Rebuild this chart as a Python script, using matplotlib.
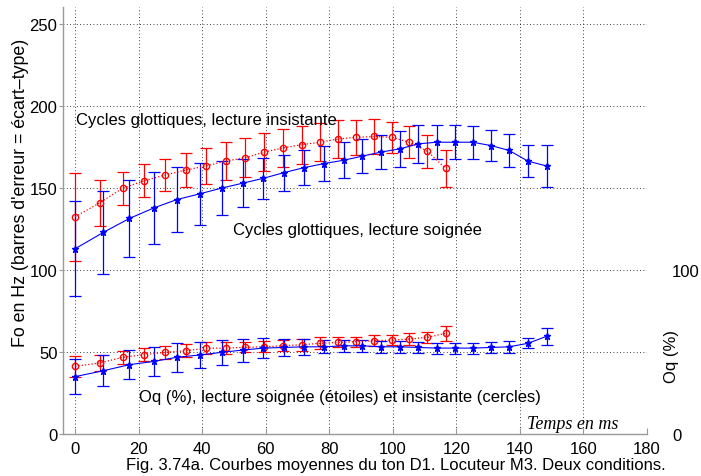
import matplotlib
matplotlib.use("Agg")
import matplotlib.pyplot as plt

plt.rcParams['font.family'] = ['Liberation Sans', 'DejaVu Sans']

# --- data ---
# lecture soignee (stars, blue)
t_soig = [0, 8.9, 17.1, 24.9, 32, 39.2, 46.1, 52.7, 59.3, 65.8, 72.1, 78.4,
          84.5, 90.4, 96.3, 102.3, 108.0, 113.8, 119.6, 125.1, 130.8, 136.6, 142.5, 148.4]
f0_soig = [113, 123, 131.5, 138, 143, 146.5, 150, 153, 156, 159.5, 162.5, 165,
           167, 169.5, 172, 174, 177, 178, 178, 178, 176, 173, 166.5, 163.5]
f0_soig_err = [29, 25.5, 23.5, 22, 20, 19, 16.5, 14.5, 12.5, 11, 10.5, 10.5,
               11, 10.5, 10.5, 11, 11.5, 10.5, 10.5, 10, 9.5, 10, 10, 13]
oq_soig = [35, 38.6, 42.3, 44.3, 46.8, 48.2, 49.8, 51.2, 52.4, 52.8, 53.2, 53.2,
           53.8, 53.8, 53.2, 53.2, 52.8, 52.4, 52.4, 52.4, 52.8, 53.2, 55.3, 59.6]
oq_soig_err = [10.8, 9.5, 9, 9, 8.7, 8.2, 7.5, 7, 6, 5, 5, 4,
               3.5, 3.5, 3.5, 3.5, 3.3, 3.3, 3.3, 3.3, 3.3, 3.5, 3, 5.3]

# lecture insistante (circles, red)
t_ins = [0, 7.7, 15, 21.8, 28.3, 34.8, 41.1, 47.4, 53.5, 59.5, 65.4, 71.3,
         77.1, 82.9, 88.4, 94.1, 99.7, 105.2, 110.9, 116.6]
f0_ins = [132.5, 141, 150, 154.5, 158, 161, 163.5, 166.5, 168.5, 172, 174.5, 176.5,
          178, 180, 181, 181.5, 181, 178, 172.5, 162]
f0_ins_err = [27, 14, 10, 10, 10, 10.5, 11, 11.5, 12, 11.7, 11.7, 11.5,
              11.5, 11.5, 10.5, 10.5, 9.5, 9.7, 10, 11.5]
oq_ins = [41.3, 43.3, 46.8, 48.4, 49.8, 50.8, 52.3, 52.4, 52.9, 53.2, 53.8, 54.5,
          55.3, 55.9, 56.3, 56.9, 57.3, 57.9, 59, 61.4]
oq_ins_err = [6.5, 4.6, 4.1, 3.8, 3.9, 3.9, 3.6, 3.5, 3, 3.3, 3.3, 3.6,
              3.6, 3, 3, 3.3, 3.3, 3.6, 3.3, 4.7]

xticks = [0, 20, 40, 60, 80, 100, 120, 140, 160, 180]
yticks = [0, 50, 100, 150, 200, 250]

blue = '#0000ff'
red = '#ff0000'

fig = plt.figure(figsize=(7.01, 4.77), dpi=100)
ax = fig.add_axes([63 / 701, 1 - 435 / 477, 584 / 701, 427 / 477])

eb = dict(capsize=4.5, elinewidth=0.9, capthick=0.9, markersize=4.5)
ax.errorbar(t_ins, f0_ins, yerr=f0_ins_err, color=red, ls=':', lw=0.9,
            marker='o', mfc='none', mec=red, **eb)
ax.errorbar(t_soig, f0_soig, yerr=f0_soig_err, color=blue, ls='-', lw=0.8,
            marker='*', **eb)
ax.errorbar(t_ins, oq_ins, yerr=oq_ins_err, color=red, ls=':', lw=0.9,
            marker='o', mfc='none', mec=red, **eb)
ax.errorbar(t_soig, oq_soig, yerr=oq_soig_err, color=blue, ls='-', lw=0.8,
            marker='*', **eb)

ax.set_xlim(-3.8, 180)
ax.set_ylim(0, 260.5)
ax.set_xticks(xticks)
ax.set_yticks(yticks)
ax.grid(True, color='black', ls=(0, (1, 3)), lw=0.6)
for s in ['top', 'right']:
    ax.spines[s].set_visible(False)
for s in ['left', 'bottom']:
    ax.spines[s].set_color('#999999')
    ax.spines[s].set_linewidth(1.0)
ax.tick_params(axis='x', direction='in', length=4, color='#999999',
               labelsize=12, pad=5)
ax.tick_params(axis='y', direction='out', length=3, color='#999999',
               labelsize=12, pad=1)
ax.set_ylabel("Fo en Hz (barres d'erreur = écart–type)", fontsize=12.8)
ax.yaxis.set_label_coords(-0.058, 0.566)

ax.text(0.3, 192, "Cycles glottiques, lecture insistante", fontsize=12, va='center')
ax.text(49.7, 124.5, "Cycles glottiques, lecture soignée", fontsize=12, va='center')
ax.text(20, 23, "Oq (%), lecture soignée (étoiles) et insistante (cercles)",
        fontsize=12, va='center')
ax.text(142.2, 6.7, "Temps en ms", fontsize=13, va='center',
        family='Liberation Serif', style='italic')

ax2 = ax.twinx()
ax2.set_ylim(ax.get_ylim())
ax2.set_yticks([0, 100])
for s in ax2.spines.values():
    s.set_visible(False)
ax2.tick_params(length=0, labelsize=12, pad=18)
ax2.set_ylabel("Oq (%)", fontsize=12)
ax2.yaxis.set_label_coords(1.029, 0.185)

fig.text(396 / 701, 1 - 466 / 477,
         "Fig. 3.74a. Courbes moyennes du ton D1. Locuteur M3. Deux conditions.",
         fontsize=12, ha='center', va='center')

fig.savefig('out.png', dpi=100)
